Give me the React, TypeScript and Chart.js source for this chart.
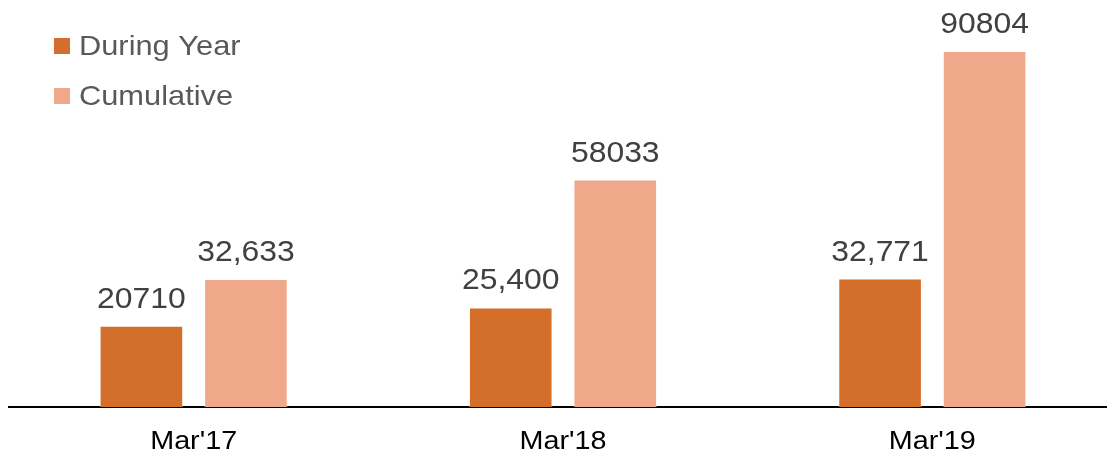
import React, { useEffect, useRef } from "react";
import { Chart, registerables } from "chart.js";

Chart.register(...registerables);

const categories = ["Mar'17", "Mar'18", "Mar'19"];
const duringYear = [20710, 25400, 32771];
const cumulative = [32633, 58033, 90804];
const duringYearLabels = ["20710", "25,400", "32,771"];
const cumulativeLabels = ["32,633", "58033", "90804"];
const seriesNames = ["During Year", "Cumulative"];
const yMax = 100000;

const ORANGE = "#D36F2B";
const PEACH = "#F0A88A";
const FONT = "'Liberation Sans', Arial, sans-serif";

function stretchedText(ctx: any, text: string, x: number, y: number, sx: number, align: string) {
  ctx.save();
  ctx.translate(x, y);
  ctx.scale(sx, 1);
  ctx.textAlign = align;
  ctx.textBaseline = "alphabetic";
  ctx.fillText(text, 0, 0);
  ctx.restore();
}

const valueLabelPlugin = {
  id: "valueLabels",
  afterDatasetsDraw(chart: any) {
    const ctx = chart.ctx;
    const labelSets = [duringYearLabels, cumulativeLabels];
    ctx.save();
    ctx.font = `29px ${FONT}`;
    ctx.fillStyle = "#404040";
    chart.data.datasets.forEach((_ds: any, di: number) => {
      const meta = chart.getDatasetMeta(di);
      meta.data.forEach((bar: any, i: number) => {
        stretchedText(ctx, labelSets[di][i], bar.x, bar.y - 18, 1.1, "center");
      });
    });
    ctx.restore();
  },
};

const xLabelPlugin = {
  id: "xLabels",
  afterDraw(chart: any) {
    const ctx = chart.ctx;
    const xs = chart.scales.x;
    ctx.save();
    ctx.font = `25px ${FONT}`;
    ctx.fillStyle = "#000000";
    categories.forEach((c, i) => {
      stretchedText(ctx, c, xs.getPixelForValue(i), xs.top + 42, 1.15, "center");
    });
    ctx.restore();
  },
};

const legendPlugin = {
  id: "customLegend",
  afterDraw(chart: any) {
    const ctx = chart.ctx;
    const colors = [ORANGE, PEACH];
    ctx.save();
    ctx.font = `28px ${FONT}`;
    seriesNames.forEach((name, i) => {
      const baseY = 55 + i * 50;
      ctx.fillStyle = colors[i];
      ctx.fillRect(54, baseY - 17, 16, 16);
      ctx.fillStyle = "#595959";
      stretchedText(ctx, name, 79, baseY, 1.1, "left");
    });
    ctx.restore();
  },
};

export default function App() {
  const ref = useRef<HTMLCanvasElement | null>(null);

  useEffect(() => {
    if (!ref.current) return;
    const chart = new Chart(ref.current, {
      type: "bar",
      data: {
        labels: categories,
        datasets: [
          {
            label: seriesNames[0],
            data: duringYear,
            backgroundColor: ORANGE,
            borderColor: "rgba(255,255,255,0.35)",
            borderWidth: 1,
            categoryPercentage: 0.566,
            barPercentage: 0.8,
          },
          {
            label: seriesNames[1],
            data: cumulative,
            backgroundColor: PEACH,
            borderColor: "rgba(255,255,255,0.35)",
            borderWidth: 1,
            categoryPercentage: 0.566,
            barPercentage: 0.8,
          },
        ],
      },
      options: {
        animation: false,
        responsive: false,
        maintainAspectRatio: false,
        layout: { padding: { left: 9, top: 15, right: 0, bottom: 0 } },
        plugins: {
          legend: { display: false },
          tooltip: { enabled: false },
        },
        scales: {
          x: {
            z: 1,
            grid: { display: false, drawTicks: false },
            border: { display: true, color: "#000000", width: 2 },
            ticks: { display: false },
            afterFit: (scale: any) => {
              scale.height = 50;
            },
          },
          y: {
            display: false,
            min: 0,
            max: yMax,
          },
        },
      },
      plugins: [valueLabelPlugin, xLabelPlugin, legendPlugin],
    });
    return () => chart.destroy();
  }, []);

  return (
    <div
      style={{
        position: "absolute",
        left: 0,
        top: 0,
        width: 1107,
        height: 457,
        overflow: "hidden",
        background: "#ffffff",
      }}
    >
      <canvas ref={ref} width={1117} height={457} style={{ display: "block" }} />
    </div>
  );
}
